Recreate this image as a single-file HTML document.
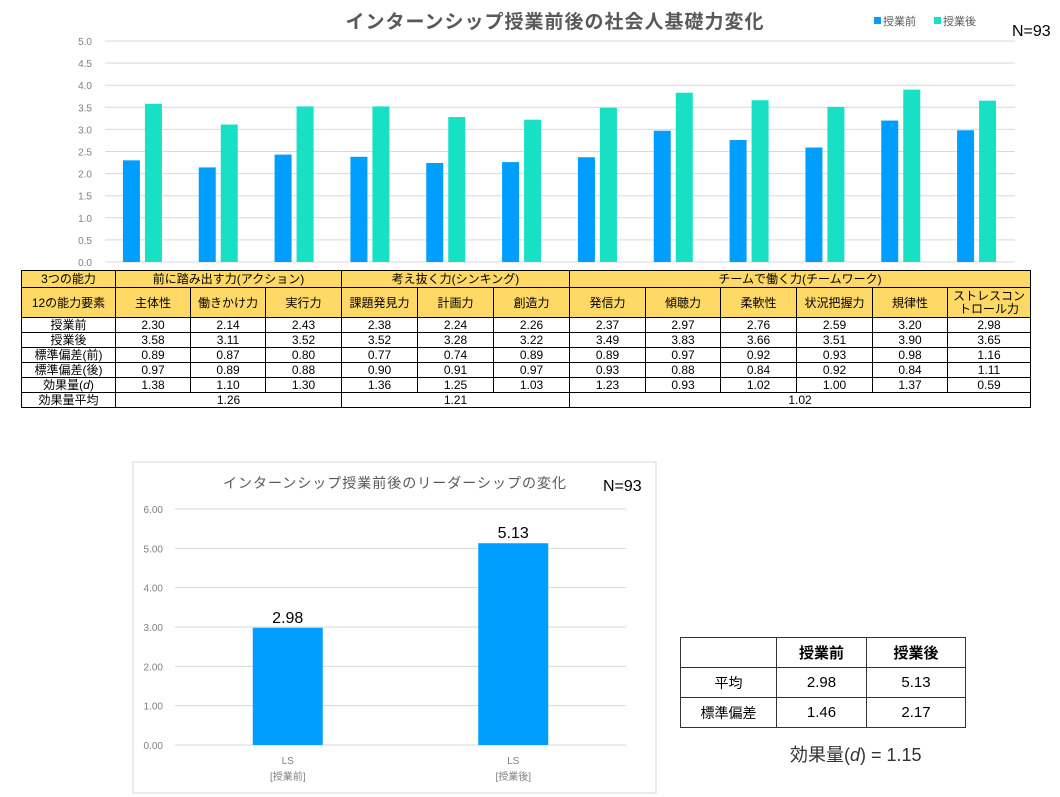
<!DOCTYPE html>
<html><head><meta charset="utf-8">
<style>
body{margin:0;width:1060px;height:797px;background:#fff;position:relative;overflow:hidden;font-family:"Liberation Sans","Noto Sans CJK JP",sans-serif;}
svg{position:absolute;left:0;top:0;}
table.t{position:absolute;left:21px;top:270px;border-collapse:collapse;font-size:12px;table-layout:fixed;}
table.t td{border:1px solid #000;text-align:center;padding:0;line-height:14px;height:14px;white-space:nowrap;overflow:hidden}
table.t tr.h td{background:#FFD966;}
table.s{position:absolute;left:680px;top:637px;border-collapse:collapse;font-size:15px;table-layout:fixed;width:285px;}
table.s td{border:1.5px solid #333;text-align:center;height:29px;padding:0;}
</style></head><body>
<svg width="1060" height="797">
<g id="topchart"></g>
<rect x="133" y="462" width="523" height="331" fill="#fff" stroke="#d9d9d9"/>
<g id="botchart"></g>
<text x="555" y="28" text-anchor="middle" font-size="19" font-weight="bold" fill="#595959" letter-spacing="1">インターンシップ授業前後の社会人基礎力変化</text>
<rect x="874" y="17" width="7" height="7" fill="#009FFF"/>
<text x="883" y="25" font-size="11" fill="#595959">授業前</text>
<rect x="934" y="17" width="7" height="7" fill="#17E0C4"/>
<text x="943" y="25" font-size="11" fill="#595959">授業後</text>
<text x="1012" y="36" font-size="16" fill="#000">N=93</text>
<text x="395" y="488" text-anchor="middle" font-size="14" fill="#595959" letter-spacing="1">インターンシップ授業前後のリーダーシップの変化</text>
<text x="603" y="491" font-size="16" fill="#000">N=93</text>
<text x="790" y="761" font-size="18" fill="#333">効果量(<tspan font-style="italic">d</tspan>) = 1.15</text>
</svg>
<table class="t">
<colgroup><col style="width:94px"><col style="width:75px"><col style="width:75px"><col style="width:76px"><col style="width:76px"><col style="width:76px"><col style="width:76px"><col style="width:76px"><col style="width:75px"><col style="width:76px"><col style="width:76px"><col style="width:75px"><col style="width:83px"></colgroup>
<tr class="h" style="height:17px"><td>3つの能力</td><td colspan="3">前に踏み出す力(アクション)</td><td colspan="3">考え抜く力(シンキング)</td><td colspan="6">チームで働く力(チームワーク)</td></tr>
<tr class="h"><td style="height:29px">12の能力要素</td><td>主体性</td><td>働きかけ力</td><td>実行力</td><td>課題発見力</td><td>計画力</td><td>創造力</td><td>発信力</td><td>傾聴力</td><td>柔軟性</td><td>状況把握力</td><td>規律性</td><td style="white-space:normal;line-height:13px">ストレスコントロール力</td></tr>
<tr><td>授業前</td><td>2.30</td><td>2.14</td><td>2.43</td><td>2.38</td><td>2.24</td><td>2.26</td><td>2.37</td><td>2.97</td><td>2.76</td><td>2.59</td><td>3.20</td><td>2.98</td></tr>
<tr><td>授業後</td><td>3.58</td><td>3.11</td><td>3.52</td><td>3.52</td><td>3.28</td><td>3.22</td><td>3.49</td><td>3.83</td><td>3.66</td><td>3.51</td><td>3.90</td><td>3.65</td></tr>
<tr><td>標準偏差(前)</td><td>0.89</td><td>0.87</td><td>0.80</td><td>0.77</td><td>0.74</td><td>0.89</td><td>0.89</td><td>0.97</td><td>0.92</td><td>0.93</td><td>0.98</td><td>1.16</td></tr>
<tr><td>標準偏差(後)</td><td>0.97</td><td>0.89</td><td>0.88</td><td>0.90</td><td>0.91</td><td>0.97</td><td>0.93</td><td>0.88</td><td>0.84</td><td>0.92</td><td>0.84</td><td>1.11</td></tr>
<tr><td>効果量(<i>d</i>)</td><td>1.38</td><td>1.10</td><td>1.30</td><td>1.36</td><td>1.25</td><td>1.03</td><td>1.23</td><td>0.93</td><td>1.02</td><td>1.00</td><td>1.37</td><td>0.59</td></tr>
<tr><td>効果量平均</td><td colspan="3">1.26</td><td colspan="3">1.21</td><td colspan="6">1.02</td></tr>
</table>
<table class="s">
<colgroup><col style="width:96px"><col style="width:90px"><col style="width:99px"></colgroup>
<tr><td></td><td style="font-weight:bold">授業前</td><td style="font-weight:bold">授業後</td></tr>
<tr><td style="font-size:14px">平均</td><td>2.98</td><td>5.13</td></tr>
<tr><td style="font-size:14px">標準偏差</td><td>1.46</td><td>2.17</td></tr>
</table>
<script>
const categories=["主体性","働きかけ力","実行力","課題発見力","計画力","創造力","発信力","傾聴力","柔軟性","状況把握力","規律性","ストレスコントロール力"];
const beforeVals=[2.30,2.14,2.43,2.38,2.24,2.26,2.37,2.97,2.76,2.59,3.20,2.98];
const afterVals=[3.58,3.11,3.52,3.52,3.28,3.22,3.49,3.83,3.66,3.51,3.90,3.65];
const topTicks=["0.0","0.5","1.0","1.5","2.0","2.5","3.0","3.5","4.0","4.5","5.0"];
const lsCategories=["LS|[授業前]","LS|[授業後]"];
const lsVals=[2.98,5.13];
const lsTicks=["0.00","1.00","2.00","3.00","4.00","5.00","6.00"];
const NS="http://www.w3.org/2000/svg";
function mk(p,tag,a){const e=document.createElementNS(NS,tag);for(const k in a)e.setAttribute(k,a[k]);p.appendChild(e);return e;}
const topG=document.getElementById('topchart');
const ty=v=>262-v*44.2, x0=105, x1=1015, gw=(x1-x0)/categories.length;
topTicks.forEach(t=>{const v=parseFloat(t);
 const l=mk(topG,'line',{x1:x0,x2:x1,y1:ty(v),y2:ty(v),stroke:'#d9d9d9'});
 
 
 const tx=mk(topG,'text',{x:92,y:ty(v)+4,'text-anchor':'end','font-size':10,fill:'#808080'});tx.textContent=t;
 
 
});
categories.forEach((c,i)=>{const cx=x0+gw*(i+0.5);
 const b=mk(topG,'rect',{x:cx-20,y:ty(beforeVals[i]),width:17,height:beforeVals[i]*44.2,fill:'#009FFF'});
 
 
 const a=mk(topG,'rect',{x:cx+2,y:ty(afterVals[i]),width:17,height:afterVals[i]*44.2,fill:'#17E0C4'});
 
 
});
const botG=document.getElementById('botchart');
const by=v=>745-v*39.33, bx0=175, bx1=626, bw=(bx1-bx0)/lsCategories.length;
lsTicks.forEach(t=>{const v=parseFloat(t);
 const l=mk(botG,'line',{x1:bx0,x2:bx1,y1:by(v),y2:by(v),stroke:'#d9d9d9'});
 
 
 const tx=mk(botG,'text',{x:163,y:by(v)+4,'text-anchor':'end','font-size':10,fill:'#808080'});tx.textContent=t;
 
 
});
lsCategories.forEach((c,i)=>{const cx=bx0+bw*(i+0.5);
 const b=mk(botG,'rect',{x:cx-35,y:by(lsVals[i]),width:70,height:lsVals[i]*39.33,fill:'#009FFF'});
 
 
 const v=mk(botG,'text',{x:cx,y:by(lsVals[i])-5,'text-anchor':'middle','font-size':16,fill:'#000'});v.textContent=lsVals[i].toFixed(2);
 
 
 const parts=c.split('|');
 parts.forEach((p,j)=>{const t=mk(botG,'text',{x:cx,y:764+j*16,'text-anchor':'middle','font-size':10,fill:'#808080'});t.textContent=p;
  
  });
});
</script>
</body></html>
